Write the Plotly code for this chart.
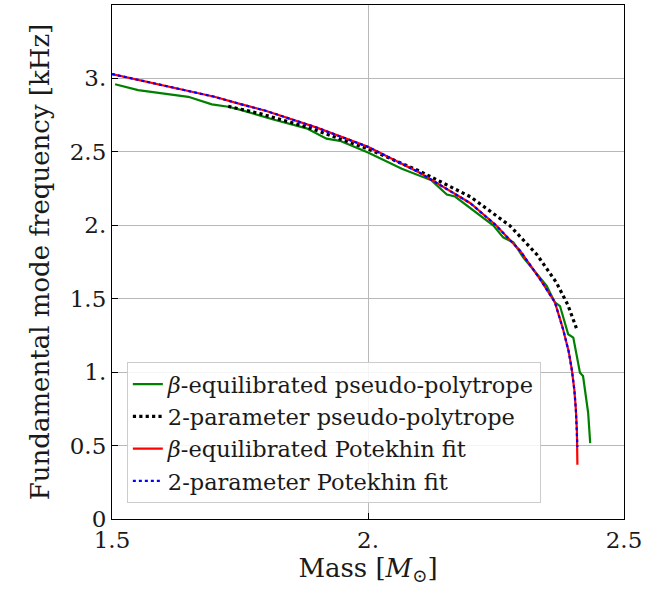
import plotly.graph_objects as go

# Data
mass_beta_pp = [1.506, 1.551, 1.649, 1.695, 1.727, 1.753, 1.815, 1.88, 1.919, 1.945, 2.0, 2.066,
                2.124, 2.154, 2.17, 2.209, 2.245, 2.264, 2.284, 2.303, 2.349, 2.365, 2.375, 2.391,
                2.401, 2.414, 2.42, 2.43, 2.434]
freq_beta_pp = [2.96, 2.92, 2.875, 2.823, 2.807, 2.784, 2.72, 2.66, 2.59, 2.575, 2.495, 2.385,
                2.306, 2.21, 2.196, 2.09, 1.998, 1.918, 1.884, 1.782, 1.588, 1.474, 1.45, 1.258,
                1.235, 0.996, 0.973, 0.722, 0.517]

mass_2p_pp = [1.727, 1.789, 1.88, 2.0, 2.1, 2.2, 2.277, 2.33, 2.368, 2.39, 2.407]
freq_2p_pp = [2.81, 2.76, 2.67, 2.52, 2.37, 2.194, 1.998, 1.80, 1.61, 1.46, 1.30]

mass_beta_pot = [1.5, 1.6, 1.7, 1.753, 1.8, 1.9, 2.0, 2.1, 2.2, 2.25, 2.297, 2.336, 2.365, 2.381,
                 2.392, 2.398, 2.403, 2.406, 2.408, 2.409]
freq_beta_pot = [3.03, 2.955, 2.875, 2.823, 2.78, 2.665, 2.534, 2.36, 2.15, 2.0, 1.827, 1.634,
                 1.476, 1.292, 1.14, 1.018, 0.88, 0.745, 0.6, 0.37]

mass_2p_pot = [1.5, 1.6, 1.7, 1.753, 1.8, 1.9, 2.0, 2.1, 2.2, 2.25, 2.297, 2.336, 2.365, 2.381,
               2.392, 2.398, 2.403, 2.406, 2.408, 2.409]
freq_2p_pot = [3.03, 2.955, 2.875, 2.823, 2.78, 2.665, 2.534, 2.36, 2.15, 2.0, 1.827, 1.634,
               1.476, 1.292, 1.14, 1.018, 0.88, 0.745, 0.6, 0.49]

x_tickvals = [1.5, 2.0, 2.5]
x_ticktext = ["1.5", "2.", "2.5"]
y_tickvals = [0, 0.5, 1.0, 1.5, 2.0, 2.5, 3.0]
y_ticktext = ["0", "0.5", "1.", "1.5", "2.", "2.5", "3."]

FONT = "DejaVu Serif"
TXT = "#1a1a1a"

fig = go.Figure()
fig.add_trace(go.Scatter(x=mass_beta_pp, y=freq_beta_pp, mode="lines",
                         name="<i>β</i>-equilibrated pseudo-polytrope",
                         line=dict(color="#008000", width=2.2)))
fig.add_trace(go.Scatter(x=mass_2p_pp, y=freq_2p_pp, mode="lines",
                         name="2-parameter pseudo-polytrope",
                         line=dict(color="black", width=3.2, dash="dot")))
fig.add_trace(go.Scatter(x=mass_beta_pot, y=freq_beta_pot, mode="lines",
                         name="<i>β</i>-equilibrated Potekhin fit",
                         line=dict(color="red", width=2.2)))
fig.add_trace(go.Scatter(x=mass_2p_pot, y=freq_2p_pot, mode="lines",
                         name="2-parameter Potekhin fit",
                         line=dict(color="blue", width=2.2, dash="dot")))

axis_common = dict(
    showgrid=True, gridcolor="#b8b8b8", gridwidth=1,
    showline=True, linecolor="black", linewidth=1.2, mirror=True,
    ticks="inside", ticklen=6, tickcolor="black", tickwidth=1,
    zeroline=False, automargin=False,
    tickfont=dict(family=FONT, size=23, color=TXT),
)

fig.update_layout(
    width=646, height=590,
    margin=dict(l=112, r=22, t=5, b=71),
    paper_bgcolor="white", plot_bgcolor="white",
    font=dict(family=FONT, color=TXT),
    showlegend=True,
    legend=dict(x=0.029, y=0.031, xanchor="left", yanchor="bottom",
                bgcolor="rgba(255,255,255,0.85)", bordercolor="#cccccc", borderwidth=1,
                font=dict(family=FONT, size=22.5, color=TXT),
                tracegroupgap=0, itemwidth=30),
    xaxis=dict(range=[1.5, 2.5], tickvals=x_tickvals, ticktext=x_ticktext,
               title=dict(text="Mass [<i>M</i><sub>⊙</sub>]", font=dict(family=FONT, size=26, color=TXT), standoff=6),
               **axis_common),
    yaxis=dict(range=[0, 3.5], tickvals=y_tickvals, ticktext=y_ticktext,
               title=dict(text="Fundamental mode frequency [kHz]", font=dict(family=FONT, size=26, color=TXT), standoff=12),
               **axis_common),
)

fig.write_html("out.html", config={"displayModeBar": False},
               post_script="document.body.style.margin='0';")
